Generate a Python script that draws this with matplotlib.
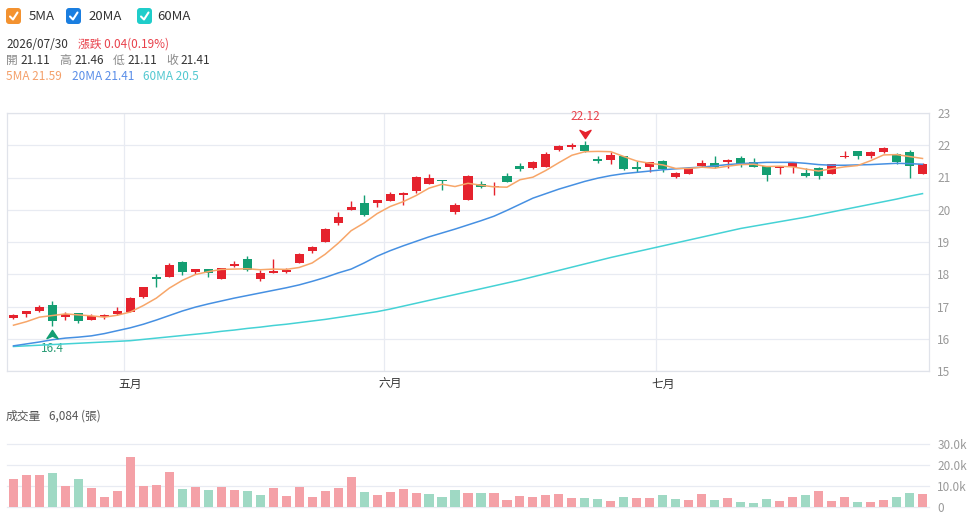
import matplotlib
matplotlib.use("Agg")
import matplotlib.pyplot as plt
from matplotlib.path import Path
from matplotlib.patches import FancyBboxPatch
from matplotlib.lines import Line2D
from matplotlib.transforms import offset_copy

W, H = 972, 518
plt.rcParams["font.family"] = ["Noto Sans CJK TC", "DejaVu Sans"]

# ---- data ----
last_date = "2026/07/30"
month_ticks = [9, 29, 50]
month_labels = ["五月", "六月", "七月"]
month_bounds = [8.5, 28.5, 49.5]

opens = [16.64, 16.77, 16.85, 17.06, 16.67, 16.79, 16.58, 16.67, 16.76, 16.84,
         17.28, 17.92, 17.92, 18.39, 18.08, 18.16, 17.86, 18.25, 18.48, 17.84,
         18.05, 18.07, 18.36, 18.71, 19.00, 19.60, 19.99, 20.21, 20.21, 20.28,
         20.47, 20.58, 20.81, 20.92, 19.92, 20.30, 20.81, 20.69, 21.04, 21.37,
         21.30, 21.34, 21.84, 21.96, 22.02, 21.56, 21.54, 21.67, 21.33, 21.33,
         21.51, 21.01, 21.11, 21.35, 21.44, 21.48, 21.61, 21.48, 21.35, 21.29,
         21.32, 21.15, 21.31, 21.12, 21.63, 21.81, 21.66, 21.79, 21.74, 21.79,
         21.11]
highs = [16.77, 16.87, 17.04, 17.17, 16.83, 16.81, 16.76, 16.78, 16.97, 17.30,
         17.60, 18.00, 18.34, 18.40, 18.17, 18.17, 18.20, 18.41, 18.56, 18.12,
         18.47, 18.20, 18.66, 18.88, 19.44, 19.92, 20.26, 20.45, 20.31, 20.54,
         20.54, 21.05, 21.10, 20.93, 20.21, 21.07, 20.90, 20.85, 21.14, 21.44,
         21.50, 21.79, 22.02, 22.07, 22.12, 21.67, 21.79, 21.68, 21.51, 21.48,
         21.53, 21.16, 21.32, 21.54, 21.66, 21.56, 21.66, 21.61, 21.36, 21.36,
         21.49, 21.31, 21.32, 21.43, 21.82, 21.83, 21.81, 21.94, 21.76, 21.85,
         21.46]
lows = [16.62, 16.67, 16.84, 16.40, 16.57, 16.50, 16.57, 16.62, 16.75, 16.83,
        17.27, 17.61, 17.91, 17.97, 18.02, 17.92, 17.85, 18.24, 18.10, 17.79,
        18.04, 18.03, 18.35, 18.67, 18.99, 19.54, 19.98, 19.80, 20.09, 20.27,
        20.16, 20.53, 20.80, 20.60, 19.86, 20.29, 20.66, 20.47, 20.85, 21.21,
        21.27, 21.33, 21.83, 21.89, 21.80, 21.44, 21.43, 21.24, 21.18, 21.16,
        21.18, 21.00, 21.10, 21.34, 21.31, 21.31, 21.33, 21.32, 20.89, 21.11,
        21.14, 21.03, 20.94, 21.11, 21.62, 21.57, 21.61, 21.75, 21.43, 21.00,
        21.11]
closes = [16.73, 16.85, 16.97, 16.55, 16.77, 16.56, 16.72, 16.74, 16.86, 17.25,
          17.59, 17.85, 18.28, 18.08, 18.16, 18.03, 18.19, 18.32, 18.13, 18.05,
          18.11, 18.14, 18.64, 18.83, 19.39, 19.79, 20.09, 19.85, 20.29, 20.50,
          20.53, 21.02, 21.00, 20.89, 20.15, 21.05, 20.70, 20.75, 20.86, 21.27,
          21.48, 21.72, 21.99, 22.00, 21.81, 21.52, 21.70, 21.25, 21.26, 21.47,
          21.26, 21.14, 21.28, 21.45, 21.32, 21.54, 21.42, 21.33, 21.09, 21.35,
          21.48, 21.04, 21.05, 21.41, 21.68, 21.67, 21.79, 21.93, 21.48, 21.37,
          21.41]
volumes = [13300, 15400, 15400, 16200, 10000, 13500, 9200, 4900, 7600, 23700,
           10200, 10500, 16800, 8700, 9500, 8300, 9500, 8300, 7500, 5900,
           8900, 5100, 9700, 4900, 7500, 9200, 14400, 7100, 5900, 7000,
           8700, 6800, 6200, 4900, 8300, 6800, 6800, 6700, 3200, 5400,
           4900, 5700, 6300, 4400, 4400, 3700, 2700, 4900, 4400, 4100,
           5900, 3800, 3500, 6200, 3200, 4400, 2400, 1700, 4000, 2900,
           4600, 5900, 7800, 3000, 4600, 2500, 2200, 3500, 4600, 6800,
           6084]
ma5 = [16.42, 16.53, 16.67, 16.72, 16.77, 16.74, 16.71, 16.67, 16.73, 16.83,
       17.03, 17.26, 17.57, 17.81, 17.99, 18.08, 18.15, 18.16, 18.17, 18.14,
       18.16, 18.15, 18.21, 18.35, 18.62, 18.96, 19.35, 19.59, 19.88, 20.10,
       20.25, 20.44, 20.67, 20.79, 20.72, 20.82, 20.76, 20.71, 20.70, 20.93,
       21.01, 21.22, 21.46, 21.69, 21.80, 21.81, 21.80, 21.65, 21.51, 21.44,
       21.39, 21.28, 21.28, 21.32, 21.29, 21.35, 21.40, 21.41, 21.34, 21.35,
       21.33, 21.26, 21.20, 21.27, 21.33, 21.37, 21.52, 21.70, 21.71, 21.65,
       21.59]
ma20 = [15.78, 15.84, 15.90, 15.97, 16.02, 16.05, 16.09, 16.16, 16.25, 16.34,
        16.45, 16.58, 16.72, 16.86, 16.98, 17.08, 17.17, 17.26, 17.34, 17.42,
        17.50, 17.58, 17.67, 17.78, 17.90, 18.04, 18.16, 18.35, 18.56, 18.73,
        18.88, 19.02, 19.16, 19.28, 19.40, 19.53, 19.66, 19.80, 19.98, 20.17,
        20.36, 20.50, 20.64, 20.76, 20.88, 20.98, 21.06, 21.12, 21.16, 21.20,
        21.24, 21.27, 21.30, 21.32, 21.36, 21.40, 21.43, 21.45, 21.47, 21.47,
        21.47, 21.44, 21.40, 21.38, 21.38, 21.39, 21.40, 21.42, 21.44, 21.43,
        21.41]
ma60 = [15.76, 15.78, 15.80, 15.82, 15.84, 15.86, 15.88, 15.90, 15.92, 15.94,
        15.98, 16.02, 16.06, 16.10, 16.14, 16.18, 16.23, 16.27, 16.32, 16.36,
        16.41, 16.45, 16.50, 16.55, 16.60, 16.66, 16.72, 16.78, 16.84, 16.92,
        17.01, 17.10, 17.19, 17.28, 17.37, 17.46, 17.55, 17.64, 17.73, 17.82,
        17.92, 18.02, 18.12, 18.22, 18.32, 18.42, 18.52, 18.61, 18.70, 18.79,
        18.88, 18.97, 19.06, 19.15, 19.24, 19.33, 19.42, 19.49, 19.56, 19.63,
        19.70, 19.77, 19.85, 19.93, 20.01, 20.09, 20.17, 20.25, 20.33, 20.42,
        20.50]

# ---- styling ----
RED = "#e5222d"
GREEN = "#139e72"
VOL_RED = "#f4a1a7"
VOL_GREEN = "#9fd9c4"
C5, C20, C60 = "#f7a669", "#4690e2", "#45d2d5"
GRID = "#e8ebf2"
BORDER = "#e0e3ea"

x = list(range(len(closes)))
candle_up = [c >= o for o, c in zip(opens, closes)]
vol_up = [True] + [closes[i] >= closes[i - 1] for i in range(1, len(closes))]

fig = plt.figure(figsize=(W / 100, H / 100), dpi=100)
inch = fig.dpi_scale_trans


def at(px, py):
    return px / 100, (H - py) / 100


# ---- price panel ----
ax = fig.add_axes([7 / W, 1 - 371 / H, 922 / W, 258 / H])
ax.set_xlim(-0.5, len(x) - 0.5)
ax.set_ylim(15, 23)
ax.set_axisbelow(True)
ax.grid(axis="y", color=GRID, linewidth=0.9)
for b in month_bounds:
    ax.axvline(b, color=GRID, linewidth=0.9, zorder=0)
for s in ax.spines.values():
    s.set_color(BORDER)
    s.set_linewidth(0.9)

cols = [RED if u else GREEN for u in candle_up]
ax.vlines(x, lows, highs, colors=cols, linewidth=1.0, zorder=2)
bottoms = [min(o, c) for o, c in zip(opens, closes)]
heights = [max(abs(c - o), 0.03) for o, c in zip(opens, closes)]
ax.bar(x, heights, bottom=bottoms, width=0.7, color=cols, linewidth=0, zorder=3)

ax.plot(x, ma60, color=C60, linewidth=1.1, zorder=4)
ax.plot(x, ma20, color=C20, linewidth=1.1, zorder=4)
ax.plot(x, ma5, color=C5, linewidth=1.1, zorder=4)

ax.yaxis.tick_right()
ax.set_yticks(range(15, 24))
ax.tick_params(axis="y", length=0, pad=6, labelcolor="#9a9a9a", labelsize=8.5)
ax.set_xticks(month_ticks)
ax.set_xticklabels(month_labels)
ax.tick_params(axis="x", length=0, pad=5, labelcolor="#333333", labelsize=8.5)

# high / low markers
down_arrow = Path([(-1, 0.75), (0, -0.75), (1, 0.75), (0, 0.3), (-1, 0.75)],
                  [Path.MOVETO, Path.LINETO, Path.LINETO, Path.LINETO, Path.CLOSEPOLY])
up_arrow = Path([(-1, -0.75), (0, 0.75), (1, -0.75), (0, -0.3), (-1, -0.75)],
                [Path.MOVETO, Path.LINETO, Path.LINETO, Path.LINETO, Path.CLOSEPOLY])
hi = max(range(len(highs)), key=lambda i: highs[i])
lo = min(range(len(lows)), key=lambda i: lows[i])
ax.plot([hi], [highs[hi]], marker=down_arrow, ms=8, color=RED, linestyle="none",
        transform=offset_copy(ax.transData, fig=fig, y=5.6, units="points"), zorder=5)
ax.text(hi, highs[hi], f"{highs[hi]:g}", color="#e8414b", fontsize=8.5, ha="center", va="center",
        transform=offset_copy(ax.transData, fig=fig, y=17.6, units="points"))
ax.plot([lo], [lows[lo]], marker=up_arrow, ms=8, color=GREEN, linestyle="none",
        transform=offset_copy(ax.transData, fig=fig, y=-6, units="points"), zorder=5)
ax.text(lo, lows[lo], f"{lows[lo]:g}", color="#2a9d76", fontsize=8.5, ha="center", va="center",
        transform=offset_copy(ax.transData, fig=fig, y=-16, units="points"))

# ---- volume panel ----
av = fig.add_axes([7 / W, 1 - 507 / H, 922 / W, 63 / H])
av.set_xlim(-0.5, len(x) - 0.5)
av.set_ylim(0, 30000)
for s in av.spines.values():
    s.set_visible(False)
for v in [0, 10000, 20000, 30000]:
    av.axhline(v, color=GRID, linewidth=0.9, zorder=0, clip_on=False)
av.bar(x, volumes, width=0.7, color=[VOL_RED if u else VOL_GREEN for u in vol_up],
       linewidth=0, zorder=2)
av.set_xticks([])
av.yaxis.tick_right()
av.set_yticks([0, 10000, 20000, 30000])
av.set_yticklabels(["0", "10.0k", "20.0k", "30.0k"])
av.tick_params(axis="y", length=0, pad=6, labelcolor="#9a9a9a", labelsize=8.5)

# ---- header / legend ----
legend_items = [("5MA", "#f39230", 6, 29), ("20MA", "#1a7ee0", 66, 88), ("60MA", "#1fcdca", 137, 157)]
for label, color, bx, tx in legend_items:
    x0, y0 = at(bx, 24)
    fig.patches.append(FancyBboxPatch((x0, y0), 0.15, 0.16, boxstyle="round,pad=0,rounding_size=0.03",
                                      transform=inch, facecolor=color, edgecolor="none"))
    cx = [bx + 4, bx + 7, bx + 11.5]
    cy = [16.5, 19.5, 12.5]
    fig.add_artist(Line2D([c / 100 for c in cx], [(H - c) / 100 for c in cy], transform=inch,
                          color="white", linewidth=1.5, solid_capstyle="round", solid_joinstyle="round"))
    fig.text(*at(tx, 16.5), label, transform=inch, fontsize=9.5, color="#333333", va="center")

change = closes[-1] - closes[-2]
pct = change / closes[-2] * 100
fig.text(*at(6, 44.5), last_date, transform=inch, fontsize=8.5, color="#333333", va="center")
fig.text(*at(78, 44.5), f"漲跌 {change:.2f}({pct:.2f}%)", transform=inch, fontsize=8.5,
         color="#e8414b", va="center")

ohlc_items = [("開", opens[-1], 6, 20.7), ("高", highs[-1], 59.3, 74),
              ("低", lows[-1], 112.7, 127.3), ("收", closes[-1], 166, 180.3)]
for name, val, lx, vx in ohlc_items:
    fig.text(*at(lx, 60.5), name, transform=inch, fontsize=8.5, color="#8a8a8a", va="center")
    fig.text(*at(vx, 60.5), f"{val:.2f}", transform=inch, fontsize=8.5, color="#333333", va="center")

fig.text(*at(6, 76), f"5MA {ma5[-1]:.2f}", transform=inch, fontsize=8.5, color="#f4a06a", va="center")
fig.text(*at(72, 76), f"20MA {ma20[-1]:.2f}", transform=inch, fontsize=8.5, color="#5a8ee8", va="center")
fig.text(*at(143, 76), f"60MA {ma60[-1]:g}", transform=inch, fontsize=8.5, color="#52c8d0", va="center")

fig.text(*at(6, 416), "成交量", transform=inch, fontsize=8.5, color="#555555", va="center")
fig.text(*at(49, 416), f"{volumes[-1]:,} (張)", transform=inch, fontsize=8.5, color="#555555", va="center")

fig.savefig("out.png", dpi=100)
